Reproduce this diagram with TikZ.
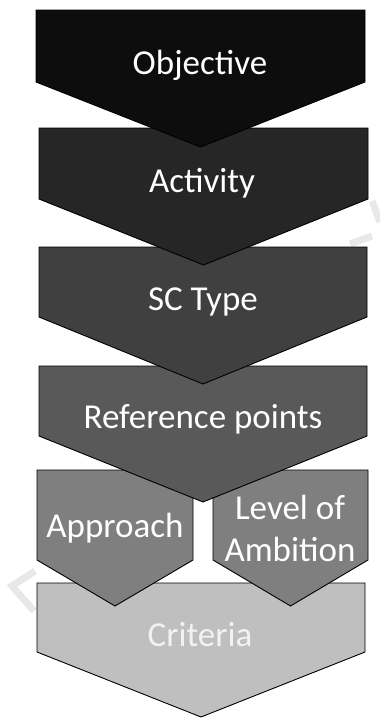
\documentclass[tikz,border=0pt]{standalone}
\usepackage{fontspec}
\setmainfont{Carlito}
\begin{document}
\begin{tikzpicture}[x=1pt,y=-1pt,
  chevbox/.style={draw=black,line width=0.9pt,line join=miter},
  lbl/.style={text=white,font=\fontsize{35}{42}\selectfont,inner sep=0pt,align=center},
  wmark/.style={draw=black!9,line width=7pt}]
\useasboundingbox (0,0) rectangle (380,718);
% chevron: left, right, top, side bottom, tip, fill
\newcommand\chevron[6]{%
  \filldraw[chevbox,fill=#6] (#1,#3) -- (#2,#3) -- (#2,#4) -- ({(#1+#2)/2},#5) -- (#1,#4) -- cycle;}
\definecolor{shA}{HTML}{0D0D0D}
\definecolor{shB}{HTML}{262626}
\definecolor{shC}{HTML}{404040}
\definecolor{shD}{HTML}{595959}
\definecolor{shE}{HTML}{7F7F7F}
\definecolor{shF}{HTML}{BFBFBF}
% faint background marks
\draw[wmark] (35,571) -- (12,586) -- (34,611);
\draw[wmark] (372,201) -- (380,222);
\draw[wmark] (350,244) -- (372,236);
% lower levels first, so upper tips overlap them
\chevron{37}{365}{583}{652}{717}{shF}
\chevron{37}{193}{470}{560}{606}{shE}
\chevron{213}{368}{470}{560}{606}{shE}
\chevron{39}{367}{366}{436}{502}{shD}
\chevron{39}{367}{247}{317}{384}{shC}
\chevron{39}{368}{128}{199}{265}{shB}
\chevron{36}{365}{10}{82}{147}{shA}
\node[lbl] (obj) at (200,65) {Objective};
\node[lbl] (act) at (202,183) {Activity};
\node[lbl] (sct) at (203,302) {SC Type};
\node[lbl] (ref) at (203,419) {Reference points};
\node[lbl] (app) at (115,528) {Approach};
\node[lbl] (amb) at (290,528) {Level of\\Ambition};
\node[lbl,text=white!95!black] (cri) at (200,635) {Criteria};
\end{tikzpicture}
\end{document}
